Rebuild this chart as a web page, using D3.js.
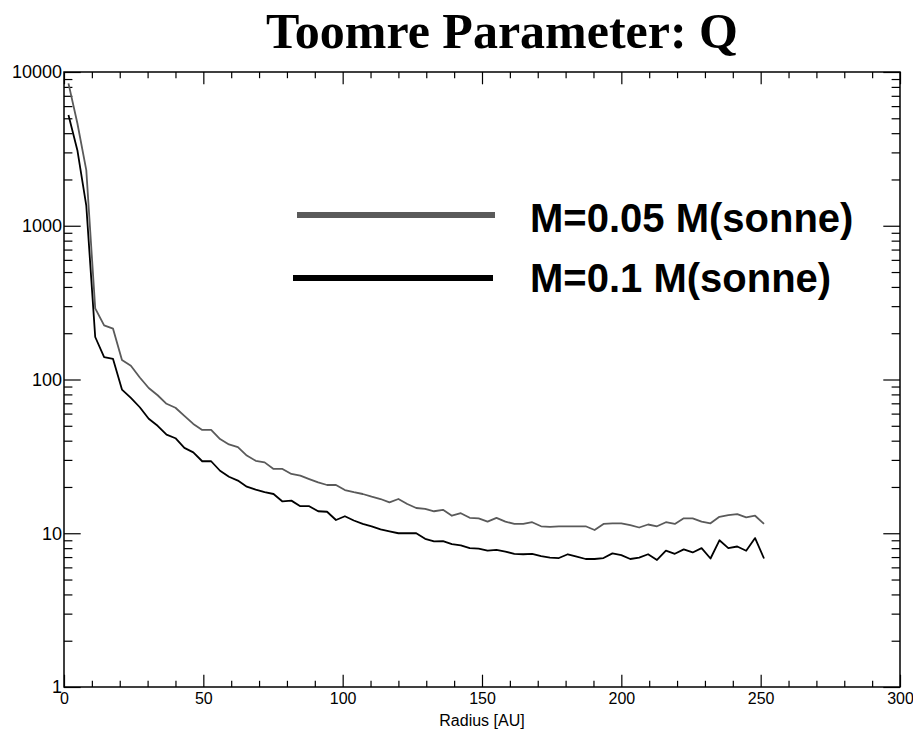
<!DOCTYPE html>
<html>
<head>
<meta charset="utf-8">
<script src="https://cdn.jsdelivr.net/npm/d3@7"></script>
<style>
  body { margin: 0; background: #fff; }
  svg { display: block; }
</style>
</head>
<body>
<script>
// Radius grid (AU)
var radius = [1.6, 4.8, 8.0, 11.2, 14.4, 17.6, 20.8, 24.0, 27.2, 30.4,
              33.6, 36.8, 40.0, 43.2, 46.4, 49.6, 52.8, 56.0, 59.2, 62.4,
              65.6, 68.8, 72.0, 75.2, 78.4, 81.6, 84.8, 88.0, 91.2, 94.4,
              97.6, 100.8, 104.0, 107.2, 110.4, 113.6, 116.8, 120.0, 123.2, 126.4,
              129.6, 132.8, 136.0, 139.2, 142.4, 145.6, 148.8, 152.0, 155.2, 158.4,
              161.6, 164.8, 168.0, 171.2, 174.4, 177.6, 180.8, 184.0, 187.2, 190.4,
              193.6, 196.8, 200.0, 203.2, 206.4, 209.6, 212.8, 216.0, 219.2, 222.4,
              225.6, 228.8, 232.0, 235.2, 238.4, 241.6, 244.8, 248.0, 251.2];

// Q for M = 0.05 M(sonne)
var q005 = [8440, 4640, 2300, 290, 225, 214, 134, 123, 103, 88,
            79, 69.5, 65.5, 58, 51.4, 47, 47, 41, 37.8, 36.3,
            32.0, 29.6, 28.9, 26.2, 26.2, 24.3, 23.7, 22.5, 21.4, 20.6,
            20.6, 19.1, 18.5, 18.0, 17.3, 16.7, 15.9, 16.7, 15.5, 14.6,
            14.4, 13.9, 14.2, 13.0, 13.5, 12.6, 12.5, 11.9, 12.6, 11.9,
            11.5, 11.5, 11.8, 11.1, 11.0, 11.1, 11.1, 11.1, 11.1, 10.5,
            11.5, 11.6, 11.6, 11.3, 10.9, 11.4, 11.1, 11.8, 11.5, 12.5,
            12.5, 11.9, 11.6, 12.8, 13.1, 13.3, 12.7, 13.0, 11.5];

// Q for M = 0.1 M(sonne)
var q01 = [5250, 3100, 1350, 189, 140, 136, 86, 76, 66, 55.5,
           50, 43.8, 41.5, 35.9, 33.6, 29.4, 29.4, 25.5, 23.3, 22,
           20.1, 19.2, 18.5, 18.0, 16.1, 16.3, 15.0, 15.0, 13.9, 13.8,
           12.2, 12.9, 12.1, 11.5, 11.1, 10.6, 10.3, 10.0, 10.0, 10.0,
           9.2, 8.85, 8.9, 8.5, 8.35, 8.0, 7.95, 7.7, 7.8, 7.6,
           7.35, 7.3, 7.35, 7.1, 6.95, 6.9, 7.3, 7.05, 6.8, 6.8,
           6.9, 7.4, 7.2, 6.8, 6.95, 7.3, 6.7, 7.7, 7.35, 7.85,
           7.5, 8.0, 6.85, 9.0, 8.0, 8.2, 7.7, 9.3, 6.85];

var legendLabels = ["M=0.05 M(sonne)", "M=0.1 M(sonne)"];
var xMajor = [0, 50, 100, 150, 200, 250, 300];
var yMajor = [1, 10, 100, 1000, 10000];

var w = 913, h = 731;
var plotL = 64, plotR = 900, plotT = 72, plotB = 687;

var svg = d3.select("body").append("svg")
  .attr("width", w)
  .attr("height", h);

var x = d3.scaleLinear().domain([0, 300]).range([plotL, plotR]);
var y = d3.scaleLog().domain([1, 10000]).range([plotB, plotT]);

// minor ticks
var xMinor = d3.range(0, 301, 10).filter(function(d) { return d % 50 !== 0; });
var yMinor = [];
yMajor.slice(0, -1).forEach(function(d) {
  for (var k = 2; k < 10; k++) yMinor.push(d * k);
});

var majY = 16.7, minY = 8.4, majX = 12.3, minX = 6.2;
var font = "'Liberation Sans', Arial, Helvetica, sans-serif";

function styleAxis(g) {
  g.select(".domain").remove();
  g.selectAll("line").attr("stroke", "#000").attr("stroke-width", 1.2);
  g.selectAll("text").attr("font-family", font).attr("fill", "#000");
}

// bottom
svg.append("g").attr("transform", "translate(0," + plotB + ")")
  .call(d3.axisBottom(x).tickValues(xMajor).tickSize(-majX).tickPadding(6)
    .tickFormat(d3.format("d")))
  .call(styleAxis)
  .selectAll("text").attr("font-size", 16);
svg.append("g").attr("transform", "translate(0," + plotB + ")")
  .call(d3.axisBottom(x).tickValues(xMinor).tickSize(-minX).tickFormat(""))
  .call(styleAxis);
// top
svg.append("g").attr("transform", "translate(0," + plotT + ")")
  .call(d3.axisTop(x).tickValues(xMajor).tickSize(-majX).tickFormat(""))
  .call(styleAxis);
svg.append("g").attr("transform", "translate(0," + plotT + ")")
  .call(d3.axisTop(x).tickValues(xMinor).tickSize(-minX).tickFormat(""))
  .call(styleAxis);
// left
svg.append("g").attr("transform", "translate(" + plotL + ",0)")
  .call(d3.axisLeft(y).tickValues(yMajor).tickSize(-majY).tickPadding(2)
    .tickFormat(d3.format("d")))
  .call(styleAxis)
  .selectAll("text").attr("font-size", 18);
svg.append("g").attr("transform", "translate(" + plotL + ",0)")
  .call(d3.axisLeft(y).tickValues(yMinor).tickSize(-minY).tickFormat(""))
  .call(styleAxis);
// right
svg.append("g").attr("transform", "translate(" + plotR + ",0)")
  .call(d3.axisRight(y).tickValues(yMajor).tickSize(-majY).tickFormat(""))
  .call(styleAxis);
svg.append("g").attr("transform", "translate(" + plotR + ",0)")
  .call(d3.axisRight(y).tickValues(yMinor).tickSize(-minY).tickFormat(""))
  .call(styleAxis);

// frame
svg.append("rect")
  .attr("x", plotL).attr("y", plotT)
  .attr("width", plotR - plotL).attr("height", plotB - plotT)
  .attr("fill", "none").attr("stroke", "#000").attr("stroke-width", 1.5);

// curves
var line = d3.line()
  .x(function(d) { return x(d[0]); })
  .y(function(d) { return y(d[1]); });

var series = [
  { values: q005, color: "#5a5a5a" },
  { values: q01, color: "#000" }
];

svg.selectAll("path.curve")
  .data(series)
  .enter()
  .append("path")
  .attr("class", "curve")
  .attr("d", function(s) {
    return line(radius.map(function(r, i) { return [r, s.values[i]]; }));
  })
  .attr("fill", "none")
  .attr("stroke", function(s) { return s.color; })
  .attr("stroke-width", 1.8)
  .attr("stroke-linejoin", "round");

// legend
var leg = [
  { x1: 297, x2: 495, y: 215, ty: 232 },
  { x1: 293, x2: 493, y: 278, ty: 292 }
];
leg.forEach(function(l, i) {
  svg.append("line")
    .attr("x1", l.x1).attr("x2", l.x2)
    .attr("y1", l.y).attr("y2", l.y)
    .attr("stroke", series[i].color)
    .attr("stroke-width", 6);
  svg.append("text")
    .attr("x", 530).attr("y", l.ty)
    .attr("font-family", font)
    .attr("font-weight", "bold")
    .attr("font-size", 40)
    .attr("fill", "#000")
    .text(legendLabels[i]);
});

// title
svg.append("text")
  .attr("x", 502).attr("y", 48)
  .attr("text-anchor", "middle")
  .attr("font-family", "'Liberation Serif', 'Times New Roman', serif")
  .attr("font-weight", "bold")
  .attr("font-size", 50)
  .text("Toomre Parameter: Q");

// x label
svg.append("text")
  .attr("x", (plotL + plotR) / 2).attr("y", 726)
  .attr("text-anchor", "middle")
  .attr("font-family", font)
  .attr("font-size", 16)
  .text("Radius [AU]");
</script>
</body>
</html>
